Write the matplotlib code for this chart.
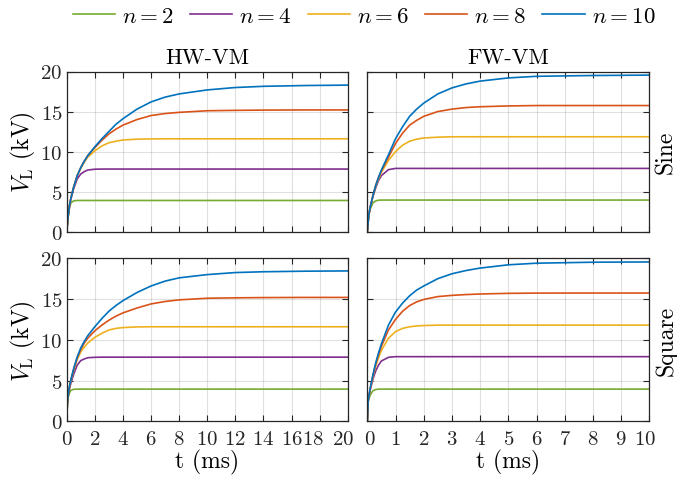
import matplotlib
matplotlib.use('Agg')
import matplotlib.pyplot as plt
import matplotlib.transforms as mtransforms

#字型設定 (LaTeX 風格)
plt.rcParams['font.family'] = 'serif'
plt.rcParams['font.serif'] = ['cmr10']
plt.rcParams['mathtext.fontset'] = 'cm'
plt.rcParams['axes.formatter.use_mathtext'] = True

#資料 (從圖上讀取, kV)
labels = ['$n=2$', '$n=4$', '$n=6$', '$n=8$', '$n=10$']
colors = ['#77AC30', '#7E2F8E', '#EDB120', '#D95319', '#0072BD']

# HW-VM, sine
t_hw_sine = [0, 0.1, 0.2, 0.3, 0.5, 0.75, 1, 1.25, 1.5, 2, 2.5, 3, 3.5, 4, 5, 6, 7, 8, 10, 12, 14, 17, 20]
hw_sine_n2 = [0, 1.8, 3.0, 3.6, 3.85, 3.9, 3.9, 3.9, 3.9, 3.9, 3.9, 3.9, 3.9, 3.9, 3.9, 3.9, 3.9, 3.9, 3.9, 3.9, 3.9, 3.9, 3.9]
hw_sine_n4 = [0, 1.9, 3.2, 4.1, 5.4, 6.6, 7.2, 7.5, 7.7, 7.8, 7.82, 7.82, 7.82, 7.82, 7.82, 7.82, 7.82, 7.82, 7.82, 7.82, 7.82, 7.82, 7.82]
hw_sine_n6 = [0, 1.9, 3.3, 4.2, 5.6, 7.0, 7.9, 8.7, 9.3, 10.1, 10.7, 11.1, 11.3, 11.45, 11.55, 11.58, 11.6, 11.6, 11.6, 11.6, 11.6, 11.6, 11.6]
hw_sine_n8 = [0, 1.9, 3.3, 4.2, 5.6, 7.0, 8.0, 8.8, 9.5, 10.5, 11.4, 12.2, 12.8, 13.3, 14.0, 14.5, 14.75, 14.9, 15.1, 15.15, 15.18, 15.2, 15.2]
hw_sine_n10 = [0, 1.9, 3.3, 4.2, 5.6, 7.0, 8.0, 8.8, 9.5, 10.6, 11.6, 12.5, 13.4, 14.1, 15.3, 16.2, 16.8, 17.2, 17.7, 18.0, 18.15, 18.25, 18.3]

# FW-VM, sine
t_fw_sine = [0, 0.05, 0.1, 0.2, 0.3, 0.4, 0.5, 0.75, 1, 1.25, 1.5, 1.75, 2, 2.5, 3, 3.5, 4, 5, 6, 8, 10]
fw_sine_n2 = [0, 2.0, 2.8, 3.6, 3.85, 3.93, 3.95, 3.95, 3.95, 3.95, 3.95, 3.95, 3.95, 3.95, 3.95, 3.95, 3.95, 3.95, 3.95, 3.95, 3.95]
fw_sine_n4 = [0, 2.0, 3.0, 4.4, 5.5, 6.4, 7.0, 7.75, 7.9, 7.9, 7.9, 7.9, 7.9, 7.9, 7.9, 7.9, 7.9, 7.9, 7.9, 7.9, 7.9]
fw_sine_n6 = [0, 2.0, 3.0, 4.5, 5.7, 6.6, 7.4, 8.9, 10.0, 10.8, 11.3, 11.55, 11.7, 11.8, 11.85, 11.85, 11.85, 11.85, 11.85, 11.85, 11.85]
fw_sine_n8 = [0, 2.0, 3.0, 4.5, 5.8, 6.8, 7.6, 9.3, 11.0, 12.3, 13.3, 13.9, 14.4, 15.0, 15.3, 15.5, 15.6, 15.7, 15.75, 15.75, 15.75]
fw_sine_n10 = [0, 2.0, 3.0, 4.5, 5.8, 6.8, 7.7, 9.6, 11.6, 13.1, 14.4, 15.3, 16.05, 17.2, 17.95, 18.45, 18.8, 19.2, 19.4, 19.5, 19.55]

# HW-VM, square
t_hw_sq = [0, 0.05, 0.1, 0.2, 0.3, 0.5, 0.75, 1, 1.25, 1.5, 2, 2.5, 3, 3.5, 4, 5, 6, 7, 8, 10, 12, 14, 17, 20]
hw_sq_n2 = [0, 2.2, 2.9, 3.5, 3.8, 3.93, 3.95, 3.95, 3.95, 3.95, 3.95, 3.95, 3.95, 3.95, 3.95, 3.95, 3.95, 3.95, 3.95, 3.95, 3.95, 3.95, 3.95, 3.95]
hw_sq_n4 = [0, 2.3, 3.1, 4.0, 4.7, 5.8, 6.9, 7.45, 7.65, 7.8, 7.85, 7.87, 7.87, 7.87, 7.87, 7.87, 7.87, 7.87, 7.87, 7.87, 7.87, 7.87, 7.87, 7.87]
hw_sq_n6 = [0, 2.3, 3.2, 4.2, 5.0, 6.3, 7.6, 8.5, 9.1, 9.6, 10.3, 10.8, 11.2, 11.4, 11.5, 11.58, 11.6, 11.6, 11.6, 11.6, 11.6, 11.6, 11.6, 11.6]
hw_sq_n8 = [0, 2.3, 3.2, 4.2, 5.1, 6.4, 7.8, 8.8, 9.6, 10.2, 11.1, 11.8, 12.4, 12.9, 13.3, 13.9, 14.4, 14.7, 14.9, 15.1, 15.15, 15.18, 15.2, 15.2]
hw_sq_n10 = [0, 2.3, 3.2, 4.3, 5.1, 6.5, 7.9, 9.0, 9.8, 10.5, 11.6, 12.6, 13.5, 14.2, 14.8, 15.8, 16.6, 17.2, 17.6, 18.0, 18.25, 18.35, 18.42, 18.45]

# FW-VM, square
t_fw_sq = [0, 0.03, 0.1, 0.2, 0.3, 0.4, 0.5, 0.75, 1, 1.25, 1.5, 1.75, 2, 2.5, 3, 3.5, 4, 5, 6, 8, 10]
fw_sq_n2 = [0, 2.4, 3.2, 3.75, 3.9, 3.95, 3.95, 3.95, 3.95, 3.95, 3.95, 3.95, 3.95, 3.95, 3.95, 3.95, 3.95, 3.95, 3.95, 3.95, 3.95]
fw_sq_n4 = [0, 2.5, 3.8, 5.2, 6.2, 6.9, 7.4, 7.85, 7.93, 7.93, 7.93, 7.93, 7.93, 7.93, 7.93, 7.93, 7.93, 7.93, 7.93, 7.93, 7.93]
fw_sq_n6 = [0, 2.5, 3.9, 5.5, 6.8, 7.8, 8.7, 10.2, 11.0, 11.4, 11.6, 11.7, 11.75, 11.8, 11.8, 11.8, 11.8, 11.8, 11.8, 11.8, 11.8]
fw_sq_n8 = [0, 2.5, 3.9, 5.6, 7.0, 8.2, 9.2, 11.2, 12.5, 13.5, 14.2, 14.65, 14.95, 15.3, 15.45, 15.55, 15.62, 15.7, 15.73, 15.74, 15.74]
fw_sq_n10 = [0, 2.5, 4.0, 5.7, 7.2, 8.4, 9.5, 11.8, 13.4, 14.5, 15.4, 16.1, 16.6, 17.5, 18.1, 18.5, 18.8, 19.2, 19.4, 19.52, 19.55]

panels = [
  (t_hw_sine, [hw_sine_n2, hw_sine_n4, hw_sine_n6, hw_sine_n8, hw_sine_n10]),
  (t_fw_sine, [fw_sine_n2, fw_sine_n4, fw_sine_n6, fw_sine_n8, fw_sine_n10]),
  (t_hw_sq, [hw_sq_n2, hw_sq_n4, hw_sq_n6, hw_sq_n8, hw_sq_n10]),
  (t_fw_sq, [fw_sq_n2, fw_sq_n4, fw_sq_n6, fw_sq_n8, fw_sq_n10]),
]

#畫圖
fig = plt.figure(figsize=(6.77, 4.85), dpi=100)
W, H = 677, 485
boxes = [(66.7, 72.5, 347.7, 232.7), (367.3, 72.5, 649.3, 232.7),
         (66.7, 259.3, 347.7, 422.3), (367.3, 259.3, 649.3, 422.3)]
axes = []
for (x0, y0, x1, y1) in boxes:
  axes.append(fig.add_axes([x0/W, 1-y1/H, (x1-x0)/W, (y1-y0)/H]))

for i, ax in enumerate(axes):
  t, series = panels[i]
  for s, c, lab in zip(series, colors, labels):
    ax.plot(t, s, color=c, lw=1.2, label=lab)
  right = (i % 2 == 1)
  ax.set_xlim(0, 10 if right else 20)
  ax.set_ylim(0, 20)
  ax.set_xticks(range(0, 11) if right else range(0, 21, 2))
  ax.set_yticks([0, 5, 10, 15, 20])
  ax.grid(True, color='#000000', alpha=0.12, lw=0.8)
  ax.tick_params(direction='in', top=True, right=True, length=4, width=0.8,
                 labelsize=15, pad=3, colors='#262626')
  ax.tick_params(axis='x', pad=6)
  for sp in ax.spines.values():
    sp.set_color('#262626')
    sp.set_linewidth(0.9)
  if right:
    ax.set_yticklabels([])
  else:
    ax.set_ylabel(r'$V_{\mathrm{L}}$ (kV)', fontsize=17, labelpad=2)
  if i < 2:
    ax.set_xticklabels([])
  else:
    ax.set_xlabel('t (ms)', fontsize=17, labelpad=1)

#最右側刻度文字稍微往內移 (MATLAB 排版)
def shift(lbl, dx):
  lbl.set_transform(lbl.get_transform() + mtransforms.ScaledTranslation(dx/100, 0, fig.dpi_scale_trans))

xl = axes[2].get_xticklabels()
shift(xl[-2], -7)
shift(xl[-1], -5)
xr = axes[3].get_xticklabels()
shift(xr[0], 3)
shift(xr[-1], -4)

axes[0].set_title('HW-VM', fontsize=16, pad=6)
axes[1].set_title('FW-VM', fontsize=16, pad=6)
axes[1].yaxis.set_label_position('right')
axes[1].set_ylabel('Sine', fontsize=17, labelpad=4)
axes[3].yaxis.set_label_position('right')
axes[3].set_ylabel('Square', fontsize=17, labelpad=4)

handles, labs = axes[0].get_legend_handles_labels()
fig.legend(handles, labs, loc='center', bbox_to_anchor=(364/W, 1-17/H), ncol=5,
           frameon=False, fontsize=16.5, handlelength=1.85, handletextpad=0.3,
           columnspacing=0.7)

fig.savefig('out.png', dpi=100)
